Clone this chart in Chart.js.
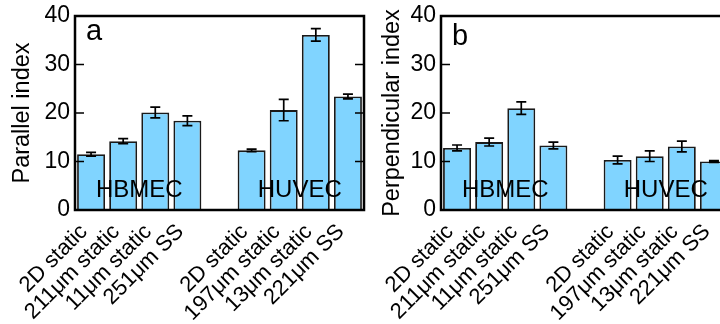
<!DOCTYPE html>
<html lang="en">
<head>
    <meta charset="UTF-8">
    <script src="https://cdn.jsdelivr.net/npm/chart.js"></script>
    <title>Parallel / Perpendicular index</title>
    <style>
        html, body { margin: 0; padding: 0; background: #fff; }
        body { width: 720px; height: 324px; overflow: hidden; position: relative; }
        .panel { position: absolute; top: 0; }
        #panelA { left: 0; }
        #panelB { left: 370px; }
    </style>
</head>
<body>
    <div class="panel" id="panelA"><canvas id="chartA" width="370" height="324"></canvas></div>
    <div class="panel" id="panelB"><canvas id="chartB" width="380" height="324"></canvas></div>

    <script>
        // categories (blank slot separates the two cell types)
        const categories = ['2D static', '211μm static', '11μm static', '251μm SS', '',
                            '2D static', '197μm static', '13μm static', '221μm SS'];
        const yTicks = [0, 10, 20, 30, 40];
        const groupLabels = ['HBMEC', 'HUVEC'];
        const groupRanges = [[0, 3], [5, 8]];

        // panel a
        const parallelValues = [11.5, 14.2, 20.1, 18.4, null, 12.3, 20.6, 36.1, 23.4];
        const parallelErrors = [0.4, 0.5, 1.1, 1.0, null, 0.25, 2.2, 1.3, 0.5];
        // panel b
        const perpValues = [12.8, 14.0, 21.0, 13.3, null, 10.3, 11.1, 13.1, 10.0];
        const perpErrors = [0.6, 0.8, 1.3, 0.7, null, 0.8, 1.1, 1.1, 0.2];

        Chart.defaults.font.family = "'Liberation Sans', Arial, sans-serif";
        Chart.defaults.color = '#000';

        // frame, inward ticks, error bars, group names and panel letter
        const decorPlugin = {
            id: 'decor',
            afterDatasetsDraw(chart, args, opts) {
                const ctx = chart.ctx;
                const area = chart.chartArea;
                const x = chart.scales.x;
                const y = chart.scales.y;
                ctx.save();

                // group names over the bars
                ctx.fillStyle = '#000';
                ctx.font = "24px 'Liberation Sans', Arial, sans-serif";
                ctx.textAlign = 'center';
                ctx.textBaseline = 'middle';
                groupLabels.forEach((g, i) => {
                    const cx = (x.getPixelForValue(groupRanges[i][0]) + x.getPixelForValue(groupRanges[i][1])) / 2;
                    ctx.fillText(g, cx, y.getPixelForValue(4.1));
                });

                // error bars
                ctx.strokeStyle = '#000';
                ctx.lineWidth = 1.7;
                const vals = chart.data.datasets[0].data;
                opts.errors.forEach((e, i) => {
                    if (e == null || vals[i] == null) return;
                    const px = x.getPixelForValue(i);
                    const top = y.getPixelForValue(vals[i] + e);
                    const bot = y.getPixelForValue(vals[i] - e);
                    ctx.beginPath();
                    ctx.moveTo(px, top); ctx.lineTo(px, bot);
                    ctx.moveTo(px - 5, top); ctx.lineTo(px + 5, top);
                    ctx.moveTo(px - 5, bot); ctx.lineTo(px + 5, bot);
                    ctx.stroke();
                });

                // inward ticks left and right
                ctx.lineWidth = 1.7;
                yTicks.forEach(t => {
                    const py = y.getPixelForValue(t);
                    ctx.beginPath();
                    ctx.moveTo(area.left, py); ctx.lineTo(area.left + 9, py);
                    ctx.moveTo(area.right, py); ctx.lineTo(area.right - 9, py);
                    ctx.stroke();
                });

                // frame
                ctx.lineWidth = 2.5;
                ctx.strokeRect(area.left, area.top, area.right - area.left, area.bottom - area.top);

                // panel letter
                ctx.font = "29px 'Liberation Sans', Arial, sans-serif";
                ctx.textAlign = 'left';
                ctx.textBaseline = 'alphabetic';
                ctx.fillText(opts.letter, area.left + 11, area.top + opts.letterBase);

                ctx.restore();
            }
        };

        function makeChart(id, values, errors, title, letter, letterBase, padRight) {
            return new Chart(document.getElementById(id), {
                type: 'bar',
                data: {
                    labels: categories,
                    datasets: [{
                        data: values,
                        backgroundColor: '#80d4ff',
                        borderColor: '#1a1a1a',
                        borderWidth: 1.8,
                        barPercentage: 0.87,
                        categoryPercentage: 1
                    }]
                },
                options: {
                    responsive: false,
                    animation: false,
                    layout: { padding: { top: 16, right: padRight, left: 0, bottom: 0 } },
                    plugins: {
                        legend: { display: false },
                        tooltip: { enabled: false },
                        decor: { errors: errors, letter: letter, letterBase: letterBase }
                    },
                    scales: {
                        x: {
                            grid: { display: false, drawTicks: false },
                            border: { display: false },
                            ticks: {
                                autoSkip: false,
                                minRotation: 45,
                                maxRotation: 45,
                                padding: 9,
                                labelOffset: -7,
                                font: { size: 22 }
                            },
                            afterFit: s => {
                                s.height = 114;
                                s.paddingLeft = 0;
                                s.paddingRight = 0;
                            }
                        },
                        y: {
                            min: 0,
                            max: 40,
                            grid: { display: false, drawTicks: false },
                            border: { display: false },
                            ticks: { stepSize: 10, padding: 5, font: { size: 23 } },
                            title: {
                                display: true,
                                text: title,
                                font: { size: 23.5 },
                                padding: { top: 8, bottom: 0 }
                            },
                            afterFit: s => {
                                s.width = id === 'chartA' ? 75 : 71;
                                s.paddingTop = 0;
                                s.paddingBottom = 0;
                            }
                        }
                    }
                },
                plugins: [decorPlugin]
            });
        }

        makeChart('chartA', parallelValues, parallelErrors, 'Parallel index', 'a', 24, 6);
        makeChart('chartB', perpValues, perpErrors, 'Perpendicular index', 'b', 29, 20);
    </script>
</body>
</html>
